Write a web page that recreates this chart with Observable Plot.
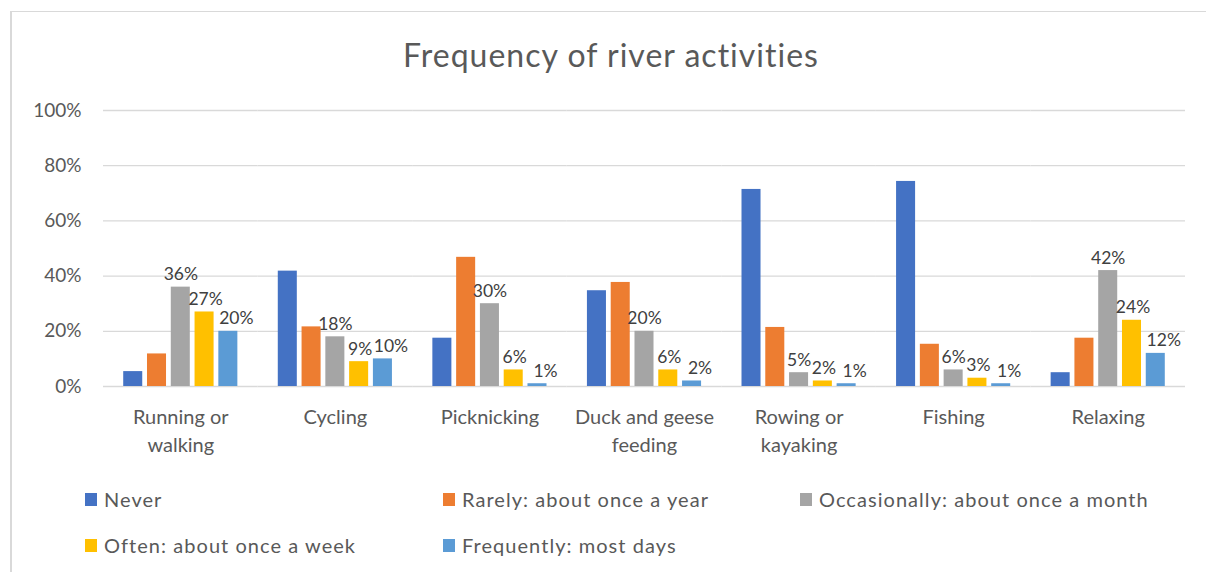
<!DOCTYPE html>
<html>
<head>
<meta charset="utf-8">
<script src="https://cdn.jsdelivr.net/npm/d3@7"></script>
<script src="https://cdn.jsdelivr.net/npm/@observablehq/plot@0.6"></script>
<style>
html, body { margin: 0; padding: 0; background: #fff; }
body { width: 1206px; height: 572px; position: relative; overflow: hidden; font-family: Lato, sans-serif; color: #595959; }
#frame { position: absolute; left: 10px; top: 11px; width: 1230px; height: 600px; border-top: 1px solid #d9d9d9; border-left: 2px solid #d9d9d9; box-sizing: border-box; }
#title { position: absolute; left: 10px; width: 1202px; top: 35px; text-align: center; font-size: 32px; letter-spacing: 1px; line-height: 40px; color: #595959; }
#chart { position: absolute; left: 0; top: 90px; }
.leg { position: absolute; display: flex; align-items: center; height: 26px; font-size: 20px; letter-spacing: 1.05px; line-height: 26px; white-space: nowrap; color: #595959; }
.sw { width: 12px; height: 13px; margin-right: 7px; flex: none; }
</style>
</head>
<body>
<div id="frame"></div>
<div id="title">Frequency of river activities</div>
<div id="chart"></div>
<div id="legend"></div>
<script>
// ---- data ----
const categories = ["Running or walking", "Cycling", "Picknicking", "Duck and geese feeding", "Rowing or kayaking", "Fishing", "Relaxing"];
const categoryLabels = ["Running or\nwalking", "Cycling", "Picknicking", "Duck and geese\nfeeding", "Rowing or\nkayaking", "Fishing", "Relaxing"];
const series = ["Never", "Rarely: about once a year", "Occasionally: about once a month", "Often: about once a week", "Frequently: most days"];
const seriesColors = ["#4472C4", "#ED7D31", "#A5A5A5", "#FFC000", "#5B9BD5"];
const never        = [5.4, 41.8, 17.5, 34.7, 71.4, 74.3, 5.0];
const rarely       = [11.8, 21.6, 46.8, 37.7, 21.4, 15.3, 17.5];
const occasionally = [36, 18, 30, 20, 5, 6, 42];
const often        = [27, 9, 6, 6, 2, 3, 24];
const frequently   = [20, 10, 1, 2, 1, 1, 12];
const labelledSeries = ["Occasionally: about once a month", "Often: about once a week", "Frequently: most days"];
const yTicks = [0, 20, 40, 60, 80, 100];

const valuesBySeries = [never, rarely, occasionally, often, frequently];
const rows = [];
categories.forEach((c, i) => series.forEach((s, j) => rows.push({category: c, series: s, value: valuesBySeries[j][i]})));

// geometry of the facet bands (used only for grid continuity and y-axis placement)
const fxBand = d3.scaleBand().domain(categories).range([103, 1185]).paddingInner(0.2).paddingOuter(0.1);
const gapHalf = (fxBand.step() - fxBand.bandwidth()) / 2;
const labelDx = [0, 1, 8];

const chart = Plot.plot({
  width: 1206,
  height: 380,
  marginTop: 20,
  marginBottom: 84,
  marginLeft: 103,
  marginRight: 21,
  style: {fontFamily: "Lato, sans-serif", fontSize: "18px", color: "#595959", background: "transparent"},
  fx: {domain: categories, paddingInner: 0.2, paddingOuter: 0.1, round: false, label: null},
  x: {domain: series, padding: 0.2, round: false, axis: null},
  y: {domain: [0, 100], axis: null},
  color: {domain: series, range: seriesColors},
  marks: [
    Plot.ruleY(yTicks, {stroke: "#d9d9d9", strokeWidth: 1.3, insetLeft: -gapHalf, insetRight: -gapHalf}),
    Plot.barY(rows, {fx: "category", x: "series", y: "value", fill: "series"}),
    ...labelledSeries.map((s, k) => Plot.text(rows.filter(r => r.series === s), {
      fx: "category", x: "series", y: "value",
      text: d => `${Math.round(d.value)}%`,
      lineAnchor: "bottom", dy: -7, dx: labelDx[k], fill: "#404040", fontSize: 17.5
    })),
    Plot.axisY({ticks: yTicks, tickFormat: d => d + "%", tickSize: 0, tickPadding: fxBand(categories[0]) - 81,
      fontSize: 19, letterSpacing: "1px", label: null}),
    Plot.axisFx({anchor: "bottom", tickSize: 0, tickPadding: 18, fontSize: 20, letterSpacing: "0.9px", lineHeight: 1.4,
      tickFormat: d => categoryLabels[categories.indexOf(d)], label: null})
  ]
});
document.getElementById("chart").appendChild(chart);

// ---- legend ----
const legendPos = [[85, 486], [443, 486], [800, 486], [85, 532], [443, 532]];
const legend = document.getElementById("legend");
series.forEach((s, i) => {
  const item = document.createElement("div");
  item.className = "leg";
  item.style.left = legendPos[i][0] + "px";
  item.style.top = legendPos[i][1] + "px";
  const sw = document.createElement("span");
  sw.className = "sw";
  sw.style.background = seriesColors[i];
  const t = document.createElement("span");
  t.textContent = s;
  item.appendChild(sw);
  item.appendChild(t);
  legend.appendChild(item);
});
</script>
</body>
</html>
